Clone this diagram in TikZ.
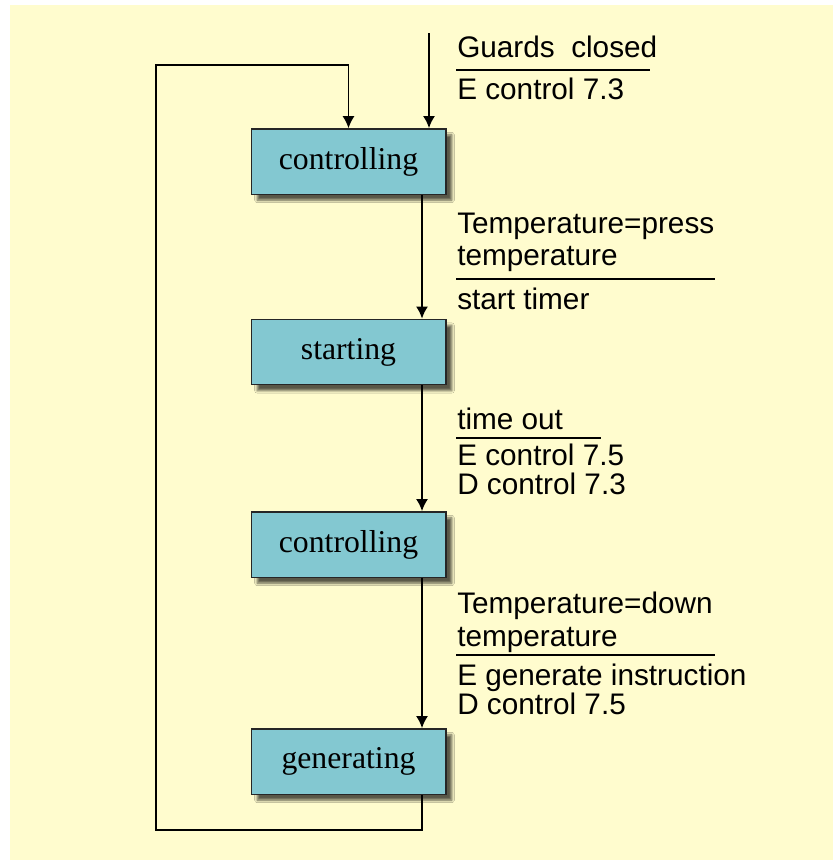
\documentclass[tikz,border=0pt]{standalone}
\usepackage{fontspec}
\setmainfont{Liberation Serif}
\newfontfamily\labelfont{Liberation Sans}
\usetikzlibrary{arrows.meta, shadows.blur}
\definecolor{paper}{RGB}{255,252,206}
\definecolor{boxteal}{RGB}{131,200,209}

\begin{document}
\begin{tikzpicture}[x=0.75pt, y=-0.75pt, >={Latex[length=9pt,width=9pt]},
		state/.style={draw=black!85, line width=1pt, fill=boxteal,
			minimum width=146pt, minimum height=49pt, inner sep=0pt,
			font=\fontsize{23.8}{27}\selectfont,
			blur shadow={shadow xshift=4.5pt, shadow yshift=-4.5pt,
				shadow blur steps=6, shadow opacity=65}},
		lbl/.style={anchor=base west, inner sep=0pt,
			font=\labelfont\fontsize{22.3}{25}\selectfont},
		flow/.style={line width=1.5pt, ->},
		back/.style={line width=1.1pt, ->},
		bar/.style={line width=1.5pt}]
		
		\useasboundingbox (0,0) rectangle (833,861);
		\fill[paper] (10,5) rectangle (833,860);
		
		% states
		\node[state] (ctlA) at (348.5,161.5) {controlling};
		\node[state] (start) at (348.5,352) {starting};
		\node[state] (ctlB) at (348.5,544.5) {controlling};
		\node[state] (gen) at (348.5,761.5) {generating};
		
		\coordinate (rail) at (422,0);
		\coordinate (entry) at (429,33);
		\coordinate (loopbl) at (156,830);
		\coordinate (looptl) at (156,65);
		
		% transitions
		\draw[flow] (entry) -- (entry |- ctlA.north);
		\draw[flow] (ctlA.south -| rail) -- (start.north -| rail);
		\draw[flow] (start.south -| rail) -- (ctlB.north -| rail);
		\draw[flow] (ctlB.south -| rail) -- (gen.north -| rail);
		\draw[back] (gen.south -| rail) |- (loopbl) -- (looptl) -| (ctlA.north);
		
		% guards and actions
		\node[lbl] (gA) at (457,57) {Guards\ \ closed};
		\draw[bar] (456,70) -- (650,70);
		\node[lbl] (aA) at (457,99) {E control 7.3};
		
		\node[lbl] (gB1) at (457,233) {Temperature=press};
		\node[lbl] (gB2) at (457,265) {temperature};
		\draw[bar] (456,279) -- (715,279);
		\node[lbl] (aB) at (457,309) {start timer};
		
		\node[lbl] (gC) at (457,429) {time out};
		\draw[bar] (456,438) -- (601,438);
		\node[lbl] (aC1) at (457,465) {E control 7.5};
		\node[lbl] (aC2) at (457,494) {D control 7.3};
		
		\node[lbl] (gD1) at (457,613) {Temperature=down};
		\node[lbl] (gD2) at (457,646) {temperature};
		\draw[bar] (456,655) -- (715,655);
		\node[lbl] (aD1) at (457,685) {E generate instruction};
		\node[lbl] (aD2) at (457,714) {D control 7.5};
		
	\end{tikzpicture}
\end{document}
